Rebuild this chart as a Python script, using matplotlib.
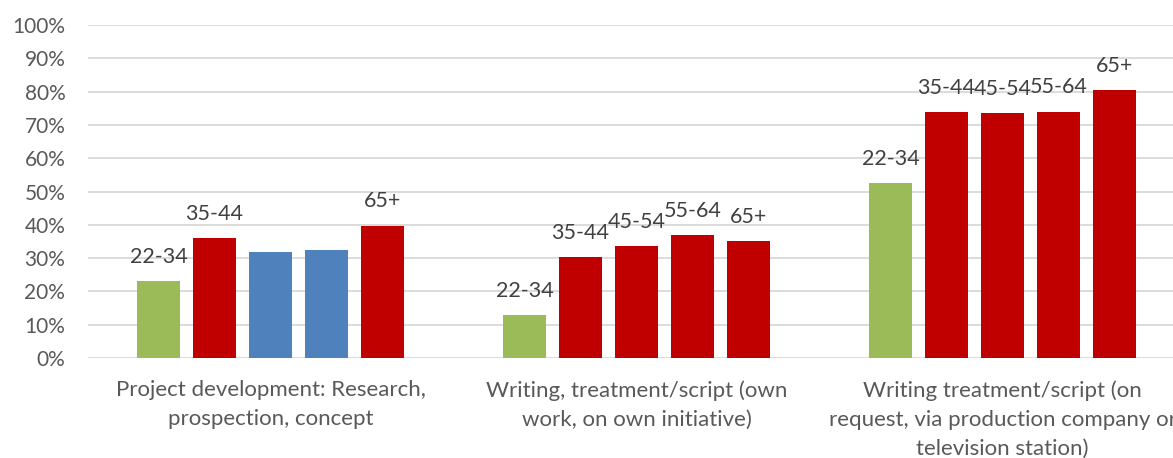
import matplotlib
matplotlib.use("Agg")
import matplotlib.pyplot as plt
import numpy as np

categories = [
    "Project development: Research,\nprospection, concept",
    "Writing, treatment/script (own\nwork, on own initiative)",
    "Writing treatment/script (on\nrequest, via production company or\ntelevision station)",
]
age_groups = ["22-34", "35-44", "45-54", "55-64", "65+"]
values = [
    [23.1, 35.9, 31.8, 32.4, 39.7],
    [12.9, 30.2, 33.6, 36.9, 35.0],
    [52.6, 73.8, 73.6, 74.0, 80.5],
]
show_label = [
    [True, True, False, False, True],
    [True, True, True, True, True],
    [True, True, True, True, True],
]
bar_colors = [
    ["#9BBB59", "#C00000", "#4F81BD", "#4F81BD", "#C00000"],
    ["#9BBB59", "#C00000", "#C00000", "#C00000", "#C00000"],
    ["#9BBB59", "#C00000", "#C00000", "#C00000", "#C00000"],
]
yticks = [0, 10, 20, 30, 40, 50, 60, 70, 80, 90, 100]

plt.rcParams['font.family'] = ['Lato', 'DejaVu Sans']
TXT = "#404040"
TICK = "#595959"

W, H = 1173, 458
fig = plt.figure(figsize=(W / 100, H / 100), dpi=100)
ax = fig.add_axes([87.5 / W, 1 - 358 / H, 1098 / W, 333 / H])

step = 0.153
width = 0.12
for g, (vals, cols, shows) in enumerate(zip(values, bar_colors, show_label)):
    for j, (v, c, s) in enumerate(zip(vals, cols, shows)):
        x = g + (j - 2) * step
        ax.bar(x, v, width=width, color=c, zorder=3)
        if s:
            ax.annotate(age_groups[j], (x, v), xytext=(0, 17.5),
                        textcoords="offset points", ha="center", va="center",
                        fontsize=15.5, color=TXT, zorder=4)

for g, cat in enumerate(categories):
    ax.annotate(cat, (g, 0), xycoords=("data", "axes fraction"),
                xytext=(0, -16), textcoords="offset points",
                ha="center", va="top", fontsize=16, color=TICK,
                linespacing=1.55, annotation_clip=False)

ax.set_xlim(-0.5, 2.5)
ax.set_ylim(0, 100)
ax.set_yticks(yticks)
ax.set_yticklabels([f"{t}%" for t in yticks], fontsize=15, color=TICK)
ax.set_xticks([])
ax.tick_params(axis="y", length=0, pad=16)
ax.grid(axis="y", color="#D9D9D9", linewidth=1.3, zorder=0)
for sp in ax.spines.values():
    sp.set_visible(False)

fig.savefig("out.png", dpi=100)
